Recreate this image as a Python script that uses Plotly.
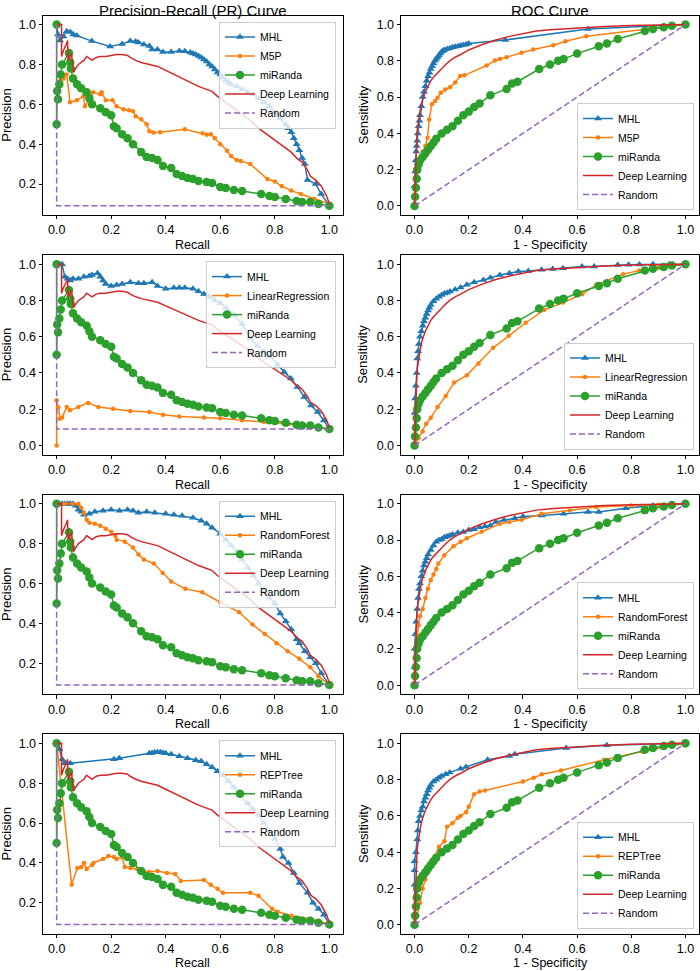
import plotly.graph_objects as go

# ---------------- shared series ----------------
random_pr_x = [0.0, 0.0, 1.0]
random_pr_y = [1.0, 0.0909, 0.0909]
random_roc_x = [0.0, 1.0]
random_roc_y = [0.0, 1.0]

mir_pr_x = [0.0, 0.0, 0.002, 0.005, 0.01, 0.015, 0.02, 0.045, 0.05, 0.052, 0.06, 0.075, 0.09, 0.11, 0.12, 0.13,
            0.16, 0.18, 0.2, 0.21, 0.22, 0.24, 0.26, 0.28, 0.31, 0.33, 0.35, 0.37, 0.39, 0.42, 0.44, 0.46, 0.48,
            0.5, 0.52, 0.55, 0.57, 0.6, 0.62, 0.65, 0.68, 0.75, 0.78, 0.8, 0.84, 0.88, 0.9, 0.93, 0.96, 1.0]
mir_pr_y = [1.0, 0.5, 0.667, 0.625, 0.7, 0.75, 0.8, 0.857, 0.81, 0.78, 0.73, 0.7, 0.68, 0.66, 0.63, 0.6,
            0.58, 0.56, 0.545, 0.49, 0.48, 0.45, 0.43, 0.4, 0.36, 0.335, 0.33, 0.32, 0.29, 0.28, 0.25, 0.24, 0.23,
            0.225, 0.215, 0.21, 0.205, 0.185, 0.18, 0.17, 0.165, 0.15, 0.14, 0.135, 0.125, 0.115, 0.11, 0.11, 0.1, 0.0909]
mir_roc_x = [0.0, 0.002, 0.005, 0.008, 0.01, 0.015, 0.02, 0.03, 0.04, 0.05, 0.06, 0.07, 0.08, 0.1, 0.12, 0.14,
             0.16, 0.18, 0.2, 0.22, 0.24, 0.28, 0.34, 0.36, 0.38, 0.46, 0.5, 0.53, 0.55, 0.6, 0.68, 0.71, 0.75,
             0.85, 0.88, 0.92, 0.95, 1.0]
mir_roc_y = [0.0, 0.05, 0.1, 0.15, 0.2, 0.23, 0.25, 0.27, 0.29, 0.31, 0.33, 0.35, 0.37, 0.4, 0.42, 0.44,
             0.47, 0.5, 0.52, 0.545, 0.565, 0.61, 0.645, 0.675, 0.685, 0.755, 0.78, 0.8, 0.81, 0.84, 0.88, 0.895, 0.92,
             0.965, 0.975, 0.985, 0.993, 1.0]

dl_pr_x = [0.0, 0.018, 0.018, 0.025, 0.035, 0.04, 0.042, 0.048, 0.055, 0.058, 0.062, 0.07, 0.08, 0.09, 0.1, 0.11,
           0.12, 0.13, 0.145, 0.16, 0.18, 0.2, 0.22, 0.24, 0.26, 0.27, 0.29, 0.31, 0.34, 0.37, 0.4, 0.43, 0.46,
           0.49, 0.52, 0.55, 0.57, 0.59, 0.62, 0.65, 0.68, 0.71, 0.74, 0.77, 0.8, 0.83, 0.86, 0.88, 0.9, 0.92,
           0.93, 0.95, 0.97, 0.99, 1.0]
dl_pr_y = [1.0, 1.0, 0.84, 0.87, 0.9, 0.92, 0.82, 0.84, 0.855, 0.8, 0.76, 0.78, 0.8, 0.81, 0.82, 0.84,
           0.83, 0.82, 0.835, 0.84, 0.84, 0.845, 0.85, 0.85, 0.845, 0.835, 0.82, 0.81, 0.8, 0.79, 0.77, 0.75, 0.73,
           0.71, 0.69, 0.675, 0.665, 0.64, 0.61, 0.58, 0.55, 0.52, 0.48, 0.45, 0.42, 0.39, 0.36, 0.33, 0.31, 0.27,
           0.24, 0.22, 0.19, 0.14, 0.1]
dl_roc_x = [0.0, 0.002, 0.004, 0.006, 0.008, 0.01, 0.013, 0.016, 0.02, 0.025, 0.03, 0.04, 0.05, 0.06, 0.07,
            0.085, 0.1, 0.115, 0.13, 0.15, 0.17, 0.2, 0.25, 0.3, 0.35, 0.4, 0.45, 0.5, 0.6, 0.7, 0.8, 0.9, 1.0]
dl_roc_y = [0.0, 0.12, 0.22, 0.3, 0.36, 0.42, 0.46, 0.49, 0.52, 0.56, 0.59, 0.63, 0.66, 0.69, 0.71,
            0.735, 0.76, 0.78, 0.8, 0.82, 0.835, 0.86, 0.89, 0.915, 0.935, 0.95, 0.965, 0.972, 0.982, 0.99, 0.995, 0.998, 1.0]

# ---------------- row specific series ----------------
other_names = ["M5P", "LinearRegression", "RandomForest", "REPTree"]

# Row 1: M5P
mhl_pr_x_1 = [0.0, 0.005, 0.0125, 0.025, 0.037, 0.05, 0.061, 0.074, 0.129, 0.196, 0.24, 0.27, 0.29, 0.3, 0.32, 0.34, 0.35,
              0.37, 0.39, 0.42, 0.45, 0.47, 0.49, 0.5, 0.51, 0.52, 0.53, 0.54, 0.55, 0.56, 0.57, 0.58, 0.59, 0.6,
              0.61, 0.62, 0.63, 0.64, 0.66, 0.68, 0.7, 0.72, 0.74, 0.76, 0.78, 0.8, 0.82, 0.84, 0.85, 0.86, 0.87,
              0.88, 0.89, 0.9, 0.91, 0.92, 0.95, 0.97, 1.0]
mhl_pr_y_1 = [1.0, 0.95, 0.92, 0.94, 0.967, 0.963, 0.95, 0.945, 0.917, 0.89, 0.903, 0.917, 0.915, 0.91, 0.9, 0.892, 0.875,
              0.875, 0.862, 0.862, 0.867, 0.866, 0.86, 0.855, 0.85, 0.842, 0.835, 0.825, 0.815, 0.8, 0.79, 0.775, 0.76, 0.75,
              0.735, 0.72, 0.71, 0.7, 0.69, 0.675, 0.66, 0.65, 0.63, 0.61, 0.59, 0.56, 0.53, 0.5, 0.48, 0.46, 0.43,
              0.4, 0.37, 0.33, 0.3, 0.22, 0.2, 0.15, 0.09]
oth_pr_x_1 = [0.0, 0.015, 0.025, 0.037, 0.049, 0.074, 0.098, 0.104, 0.134, 0.16, 0.165, 0.18, 0.205, 0.22, 0.245, 0.265,
              0.28, 0.29, 0.31, 0.33, 0.34, 0.355, 0.38, 0.47, 0.535, 0.55, 0.565, 0.58, 0.6, 0.625, 0.64, 0.66,
              0.675, 0.71, 0.773, 0.8, 0.825, 0.86, 0.895, 0.945, 1.0]
oth_pr_y_1 = [0.67, 0.72, 0.73, 0.75, 0.61, 0.62, 0.64, 0.59, 0.66, 0.65, 0.66, 0.62, 0.62, 0.59, 0.575, 0.57,
              0.565, 0.54, 0.525, 0.5, 0.465, 0.458, 0.46, 0.475, 0.455, 0.447, 0.45, 0.43, 0.4, 0.367, 0.34, 0.32,
              0.315, 0.3, 0.225, 0.213, 0.19, 0.167, 0.15, 0.125, 0.1]
mhl_roc_x_1 = [0.0, 0.0, 0.002, 0.004, 0.006, 0.008, 0.01, 0.012, 0.015, 0.018, 0.02, 0.025, 0.03, 0.035, 0.04,
               0.045, 0.05, 0.055, 0.06, 0.065, 0.07, 0.075, 0.08, 0.085, 0.09, 0.095, 0.1, 0.105, 0.11, 0.12,
               0.13, 0.14, 0.15, 0.16, 0.17, 0.18, 0.19, 0.2, 0.335, 0.64, 1.0]
mhl_roc_y_1 = [0.0, 0.11, 0.19, 0.25, 0.3, 0.33, 0.36, 0.4, 0.44, 0.47, 0.5, 0.55, 0.6, 0.63, 0.66,
               0.69, 0.715, 0.735, 0.755, 0.77, 0.785, 0.8, 0.81, 0.82, 0.83, 0.84, 0.85, 0.855, 0.86, 0.865,
               0.87, 0.875, 0.878, 0.88, 0.885, 0.888, 0.89, 0.895, 0.915, 0.975, 1.0]
oth_roc_x_1 = [0.0, 0.005, 0.01, 0.02, 0.03, 0.04, 0.048, 0.054, 0.064, 0.076, 0.085, 0.097, 0.113, 0.131, 0.15,
               0.168, 0.184, 0.266, 0.297, 0.315, 0.34, 0.395, 0.438, 0.512, 0.557, 0.634, 0.867, 1.0]
oth_roc_y_1 = [0.0, 0.15, 0.22, 0.26, 0.3, 0.33, 0.376, 0.477, 0.56, 0.578, 0.596, 0.624, 0.642, 0.655, 0.68,
               0.716, 0.72, 0.774, 0.802, 0.81, 0.82, 0.844, 0.862, 0.886, 0.908, 0.936, 0.978, 1.0]

# Row 2: LinearRegression
mhl_pr_x_2 = [0.0, 0.01, 0.02, 0.03, 0.04, 0.05, 0.06, 0.08, 0.1, 0.12, 0.13, 0.15, 0.16, 0.17, 0.18, 0.2, 0.22,
              0.24, 0.27, 0.3, 0.32, 0.35, 0.37, 0.4, 0.43, 0.45, 0.47, 0.5, 0.52, 0.54, 0.56, 0.58, 0.6, 0.62,
              0.65, 0.68, 0.71, 0.736, 0.76, 0.785, 0.81, 0.834, 0.859, 0.883, 0.908, 0.933, 0.957, 0.98, 1.0]
mhl_pr_y_2 = [1.0, 1.0, 1.0, 0.93, 0.92, 0.91, 0.92, 0.92, 0.93, 0.935, 0.94, 0.95, 0.93, 0.91, 0.89, 0.88, 0.885,
              0.89, 0.9, 0.895, 0.895, 0.9, 0.88, 0.865, 0.87, 0.87, 0.87, 0.865, 0.85, 0.835, 0.82, 0.8, 0.785, 0.76,
              0.72, 0.67, 0.59, 0.55, 0.517, 0.49, 0.446, 0.406, 0.369, 0.323, 0.268, 0.221, 0.185, 0.138, 0.09]
oth_pr_x_2 = [0.0, 0.0, 0.006, 0.0125, 0.02, 0.037, 0.049, 0.08, 0.116, 0.153, 0.207, 0.27, 0.34, 0.39, 0.45,
              0.54, 0.6, 0.68, 0.76, 0.85, 0.94, 1.0]
oth_pr_y_2 = [0.0, 0.249, 0.21, 0.148, 0.155, 0.212, 0.194, 0.212, 0.235, 0.212, 0.203, 0.19, 0.185, 0.17, 0.16,
              0.155, 0.15, 0.14, 0.13, 0.12, 0.105, 0.09]
mhl_roc_x_2 = [0.0, 0.0, 0.002, 0.005, 0.008, 0.01, 0.013, 0.016, 0.02, 0.025, 0.03, 0.035, 0.04, 0.045, 0.05,
               0.055, 0.06, 0.07, 0.08, 0.09, 0.1, 0.11, 0.12, 0.131, 0.15, 0.17, 0.193, 0.22, 0.254, 0.28,
               0.315, 0.35, 0.383, 0.42, 0.469, 0.51, 0.548, 0.618, 0.663, 0.75, 0.79, 0.83, 0.88, 0.94, 1.0]
mhl_roc_y_2 = [0.0, 0.18, 0.26, 0.33, 0.4, 0.48, 0.52, 0.56, 0.6, 0.63, 0.66, 0.685, 0.705, 0.725, 0.745,
               0.76, 0.775, 0.795, 0.81, 0.82, 0.83, 0.838, 0.843, 0.849, 0.86, 0.872, 0.886, 0.9, 0.913, 0.925,
               0.94, 0.95, 0.959, 0.962, 0.969, 0.974, 0.978, 0.987, 0.987, 0.996, 0.997, 0.998, 0.999, 1.0, 1.0]
oth_roc_x_2 = [0.0, 0.015, 0.03, 0.043, 0.06, 0.085, 0.115, 0.146, 0.193, 0.236, 0.29, 0.348, 0.41, 0.478,
               0.548, 0.618, 0.671, 0.77, 0.83, 0.9, 1.0]
oth_roc_y_2 = [0.0, 0.04, 0.078, 0.12, 0.153, 0.212, 0.273, 0.347, 0.387, 0.452, 0.539, 0.605, 0.677, 0.747,
               0.788, 0.834, 0.886, 0.945, 0.965, 0.98, 1.0]

# Row 3: RandomForest
mhl_pr_x_3 = [0.0, 0.01, 0.02, 0.03, 0.04, 0.05, 0.06, 0.07, 0.08, 0.09, 0.1, 0.12, 0.14, 0.17, 0.2, 0.23, 0.26,
              0.28, 0.3, 0.33, 0.36, 0.4, 0.43, 0.46, 0.5, 0.53, 0.55, 0.57, 0.6, 0.62, 0.64, 0.66, 0.68, 0.7,
              0.72, 0.74, 0.76, 0.78, 0.8, 0.82, 0.84, 0.86, 0.88, 0.89, 0.91, 0.93, 0.95, 0.97, 1.0]
mhl_pr_y_3 = [1.0, 1.0, 1.0, 1.0, 1.0, 1.0, 1.0, 0.99, 0.97, 0.96, 0.945, 0.95, 0.96, 0.965, 0.97, 0.965, 0.97,
              0.965, 0.955, 0.96, 0.955, 0.95, 0.945, 0.94, 0.93, 0.915, 0.9, 0.88, 0.85, 0.82, 0.79, 0.76, 0.72, 0.68,
              0.64, 0.6, 0.565, 0.53, 0.5, 0.45, 0.41, 0.37, 0.32, 0.3, 0.26, 0.23, 0.2, 0.15, 0.09]
oth_pr_x_3 = [0.0, 0.01, 0.03, 0.06, 0.08, 0.09, 0.1, 0.11, 0.12, 0.14, 0.16, 0.18, 0.2, 0.215, 0.22, 0.25, 0.28,
              0.3, 0.32, 0.356, 0.389, 0.42, 0.472, 0.534, 0.6, 0.669, 0.718, 0.763, 0.806, 0.847, 0.89, 0.93,
              0.96, 1.0]
oth_pr_y_3 = [1.0, 1.0, 1.0, 1.0, 1.0, 0.98, 0.955, 0.92, 0.905, 0.9, 0.89, 0.875, 0.86, 0.84, 0.82, 0.81, 0.78,
              0.745, 0.72, 0.7, 0.652, 0.61, 0.573, 0.556, 0.506, 0.456, 0.394, 0.347, 0.3, 0.26, 0.222, 0.18,
              0.135, 0.09]
mhl_roc_x_3 = [0.0, 0.0, 0.0, 0.003, 0.006, 0.01, 0.013, 0.016, 0.02, 0.025, 0.03, 0.035, 0.04, 0.045, 0.05,
               0.06, 0.07, 0.08, 0.09, 0.1, 0.11, 0.12, 0.13, 0.14, 0.16, 0.18, 0.2, 0.22, 0.24, 0.26, 0.28, 0.3,
               0.33, 0.37, 0.4, 0.47, 0.55, 0.64, 0.68, 0.78, 0.88, 1.0]
mhl_roc_y_3 = [0.0, 0.1, 0.2, 0.28, 0.35, 0.42, 0.48, 0.53, 0.56, 0.6, 0.63, 0.66, 0.68, 0.7, 0.72,
               0.745, 0.77, 0.79, 0.8, 0.805, 0.815, 0.82, 0.825, 0.83, 0.84, 0.845, 0.855, 0.86, 0.87, 0.875, 0.88, 0.9,
               0.91, 0.92, 0.93, 0.935, 0.945, 0.955, 0.955, 0.975, 0.99, 1.0]
oth_roc_x_3 = [0.0, 0.003, 0.007, 0.01, 0.015, 0.02, 0.03, 0.04, 0.049, 0.06, 0.07, 0.08, 0.088, 0.11, 0.144,
               0.17, 0.193, 0.248, 0.315, 0.35, 0.395, 0.469, 0.573, 0.671, 0.8, 0.9, 1.0]
oth_roc_y_3 = [0.0, 0.1, 0.2, 0.27, 0.33, 0.38, 0.42, 0.48, 0.532, 0.58, 0.61, 0.64, 0.67, 0.716, 0.766,
               0.79, 0.81, 0.846, 0.89, 0.9, 0.912, 0.945, 0.963, 0.982, 0.99, 0.995, 1.0]

# Row 4: REPTree
mhl_pr_x_4 = [0.0, 0.01, 0.02, 0.03, 0.05, 0.21, 0.23, 0.34, 0.35, 0.36, 0.37, 0.38, 0.39, 0.4, 0.42, 0.45, 0.48,
              0.51, 0.53, 0.55, 0.57, 0.59, 0.61, 0.63, 0.65, 0.67, 0.7, 0.72, 0.74, 0.76, 0.78, 0.8, 0.82, 0.83,
              0.85, 0.87, 0.89, 0.92, 0.94, 0.96, 0.98, 1.0]
mhl_pr_y_4 = [1.0, 0.97, 0.92, 0.9, 0.9, 0.92, 0.925, 0.95, 0.952, 0.955, 0.955, 0.955, 0.953, 0.95, 0.945, 0.935,
              0.925, 0.915, 0.91, 0.895, 0.88, 0.86, 0.84, 0.81, 0.78, 0.74, 0.7, 0.67, 0.64, 0.6, 0.56, 0.52, 0.47,
              0.43, 0.4, 0.35, 0.3, 0.25, 0.2, 0.17, 0.14, 0.09]
oth_pr_x_4 = [0.0, 0.055, 0.076, 0.09, 0.1, 0.11, 0.13, 0.135, 0.17, 0.19, 0.21, 0.22, 0.24, 0.25,
              0.27, 0.295, 0.34, 0.37, 0.405, 0.435, 0.455, 0.54, 0.565, 0.59, 0.61, 0.71, 0.74, 0.79, 0.81, 0.86,
              0.93, 1.0]
oth_pr_y_4 = [1.0, 0.29, 0.375, 0.38, 0.4, 0.37, 0.39, 0.4, 0.42, 0.435, 0.43, 0.42, 0.43, 0.38,
              0.375, 0.37, 0.355, 0.36, 0.35, 0.345, 0.31, 0.315, 0.29, 0.27, 0.25, 0.25, 0.235, 0.17, 0.155, 0.135,
              0.12, 0.093]
mhl_roc_x_4 = [0.0, 0.0, 0.0, 0.0, 0.005, 0.01, 0.012, 0.015, 0.02, 0.025, 0.03, 0.035, 0.04, 0.045, 0.05, 0.055,
               0.06, 0.07, 0.08, 0.09, 0.1, 0.115, 0.13, 0.17, 0.19, 0.27, 0.35, 0.37, 0.56, 0.71, 1.0]
mhl_roc_y_4 = [0.0, 0.22, 0.3, 0.35, 0.4, 0.47, 0.52, 0.57, 0.6, 0.63, 0.65, 0.68, 0.7, 0.72, 0.74, 0.755,
               0.77, 0.79, 0.8, 0.81, 0.82, 0.83, 0.84, 0.86, 0.87, 0.91, 0.93, 0.94, 0.975, 0.99, 1.0]
oth_roc_x_4 = [0.0, 0.01, 0.02, 0.03, 0.04, 0.05, 0.07, 0.09, 0.11, 0.12, 0.14, 0.16, 0.17, 0.19, 0.2, 0.22,
               0.24, 0.26, 0.4, 0.44, 0.47, 0.54, 0.7, 0.84, 1.0]
oth_roc_y_4 = [0.0, 0.05, 0.12, 0.2, 0.25, 0.29, 0.36, 0.43, 0.46, 0.54, 0.56, 0.59, 0.6, 0.62, 0.65, 0.72,
               0.735, 0.74, 0.79, 0.81, 0.83, 0.85, 0.91, 0.955, 1.0]

pr_title = "Precision-Recall (PR) Curve"
roc_title = "ROC Curve"

rows = [
    (mhl_pr_x_1, mhl_pr_y_1, oth_pr_x_1, oth_pr_y_1, mhl_roc_x_1, mhl_roc_y_1, oth_roc_x_1, oth_roc_y_1),
    (mhl_pr_x_2, mhl_pr_y_2, oth_pr_x_2, oth_pr_y_2, mhl_roc_x_2, mhl_roc_y_2, oth_roc_x_2, oth_roc_y_2),
    (mhl_pr_x_3, mhl_pr_y_3, oth_pr_x_3, oth_pr_y_3, mhl_roc_x_3, mhl_roc_y_3, oth_roc_x_3, oth_roc_y_3),
    (mhl_pr_x_4, mhl_pr_y_4, oth_pr_x_4, oth_pr_y_4, mhl_roc_x_4, mhl_roc_y_4, oth_roc_x_4, oth_roc_y_4),
]

# ---------------- styling / layout ----------------
W, H = 700, 971
FONT = "Liberation Sans, Arial, Helvetica, sans-serif"
C_BLUE, C_ORANGE, C_GREEN, C_RED, C_PURPLE = "#1f77b4", "#ff7f0e", "#2ca02c", "#d62728", "#9467bd"
COL_L = [43, 401]
COL_R = [343, 699]
ROW_T0, ROW_PITCH, ROW_H = 15.5, 239.6, 199.5

fig = go.Figure()
layout = dict(width=W, height=H, margin=dict(l=0, r=0, t=0, b=0),
              paper_bgcolor="white", plot_bgcolor="white",
              font=dict(family=FONT, color="black"), showlegend=True)
annotations = []


def yr(vals_list):
    lo = min(min(v) for v in vals_list)
    hi = max(max(v) for v in vals_list)
    pad = 0.05 * (hi - lo)
    return [lo - pad, hi + pad]


for r, (mpx, mpy, opx, opy, mrx, mry, orx, ory) in enumerate(rows):
    top = ROW_T0 + ROW_PITCH * r
    bot = top + ROW_H
    for c in range(2):
        k = 2 * r + c + 1
        sfx = "" if k == 1 else str(k)
        xa, ya = "x" + sfx, "y" + sfx
        lg = "legend" + sfx
        if c == 0:
            series = [
                ("MHL", mpx, mpy, dict(color=C_BLUE, width=1.5), dict(symbol="triangle-up", size=7, color=C_BLUE), "lines+markers"),
                (other_names[r], opx, opy, dict(color=C_ORANGE, width=1.5), dict(symbol="circle", size=4.5, color=C_ORANGE), "lines+markers"),
                ("miRanda", mir_pr_x, mir_pr_y, dict(color=C_GREEN, width=1.5), dict(symbol="circle", size=8.5, color=C_GREEN), "lines+markers"),
                ("Deep Learning", dl_pr_x, dl_pr_y, dict(color=C_RED, width=1.5), None, "lines"),
                ("Random", random_pr_x, random_pr_y, dict(color=C_PURPLE, width=1.5, dash="6px,3px"), None, "lines"),
            ]
        else:
            series = [
                ("MHL", mrx, mry, dict(color=C_BLUE, width=1.5), dict(symbol="triangle-up", size=7, color=C_BLUE), "lines+markers"),
                (other_names[r], orx, ory, dict(color=C_ORANGE, width=1.5), dict(symbol="circle", size=4.5, color=C_ORANGE), "lines+markers"),
                ("miRanda", mir_roc_x, mir_roc_y, dict(color=C_GREEN, width=1.5), dict(symbol="circle", size=8.5, color=C_GREEN), "lines+markers"),
                ("Deep Learning", dl_roc_x, dl_roc_y, dict(color=C_RED, width=1.5), None, "lines"),
                ("Random", random_roc_x, random_roc_y, dict(color=C_PURPLE, width=1.5, dash="6px,3px"), None, "lines"),
            ]
        for name, xs, ys, line, marker, mode in series:
            tr = dict(x=xs, y=ys, name=name, mode=mode, line=line, xaxis=xa, yaxis=ya,
                      legend=lg, showlegend=True, hoverinfo="skip")
            if marker is not None:
                tr["marker"] = marker
            fig.add_trace(go.Scatter(**tr))

        yrange = yr([s[2] for s in series])
        axis_common = dict(showline=True, linecolor="black", linewidth=0.9, mirror=True,
                           ticks="outside", ticklen=3.5, tickwidth=0.9, tickcolor="black",
                           showgrid=False, zeroline=False, automargin=False,
                           tickfont=dict(family=FONT, size=12.5, color="black"),
                           tickformat=".1f", tick0=0, dtick=0.2)
        layout["xaxis" + sfx] = dict(axis_common, domain=[COL_L[c] / W, COL_R[c] / W],
                                     range=[-0.05, 1.05], anchor=ya)
        layout["yaxis" + sfx] = dict(axis_common, domain=[1 - bot / H, 1 - top / H],
                                     range=yrange, anchor=xa)
        # legend
        leg = dict(font=dict(family=FONT, size=10.5, color="black"),
                   bgcolor="rgba(255,255,255,0.8)", bordercolor="#cccccc", borderwidth=1,
                   xref="paper", yref="paper", xanchor="right", itemwidth=30,
                   tracegroupgap=0)
        if c == 0:
            leg.update(x=(COL_R[c] - 7) / W, y=1 - (top + 6) / H, yanchor="top")
        else:
            leg.update(x=(COL_R[c] - 5) / W, y=1 - (bot - 5) / H, yanchor="bottom")
        layout[lg] = leg

        cx = (COL_L[c] + COL_R[c]) / 2
        # x-axis label
        xl_center = min(bot + 30, H - 8)
        annotations.append(dict(text="Recall" if c == 0 else "1 - Specificity",
                                x=cx / W, y=1 - xl_center / H, xref="paper", yref="paper",
                                showarrow=False, xanchor="center", yanchor="middle",
                                font=dict(family=FONT, size=12.5, color="black")))
        # y-axis label
        annotations.append(dict(text="Precision" if c == 0 else "Sensitivity",
                                x=(6.5 if c == 0 else 363) / W, y=1 - (top + ROW_H / 2) / H,
                                xref="paper", yref="paper", showarrow=False, textangle=-90,
                                xanchor="center", yanchor="middle",
                                font=dict(family=FONT, size=13, color="black")))
        if r == 0:
            annotations.append(dict(text=pr_title if c == 0 else roc_title,
                                    x=cx / W, y=1.0, xref="paper", yref="paper",
                                    showarrow=False, xanchor="center", yanchor="top",
                                    font=dict(family=FONT, size=15, color="black")))

layout["annotations"] = annotations
fig.update_layout(**layout)
fig.write_html("out.html",
               config={"displayModeBar": False},
               post_script="document.body.style.margin='0';document.body.style.overflow='hidden';")
